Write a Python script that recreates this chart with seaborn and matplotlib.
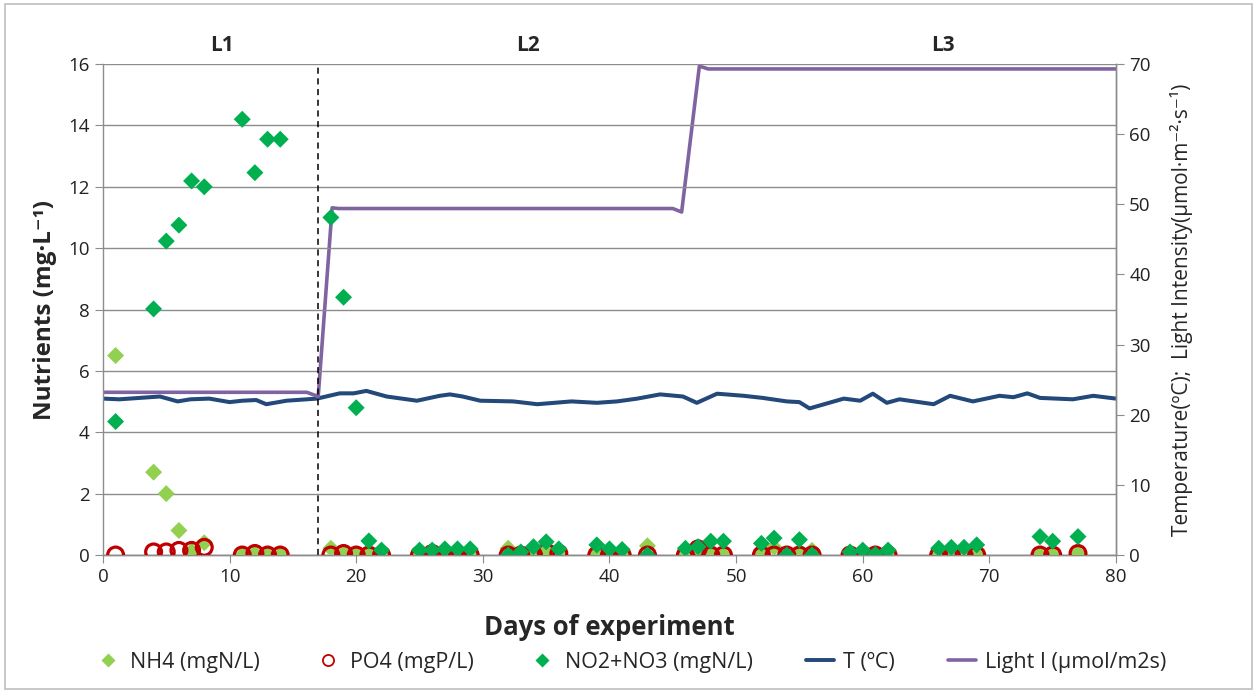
import matplotlib
matplotlib.use("Agg")
import matplotlib.pyplot as plt
from matplotlib import font_manager
from matplotlib.lines import Line2D
from matplotlib.patches import Rectangle
import seaborn as sns
import pandas as pd

# sampling days for the nutrient analyses
sample_days = [1, 4, 5, 6, 7, 8, 11, 12, 13, 14,
               18, 19, 20, 21, 22, 25, 26, 27, 28, 29, 32, 33, 34, 35, 36, 39, 40, 41, 43, 46,
               47, 48, 49, 52, 53, 54, 55, 56, 59, 60, 61, 62, 66, 67, 68, 69, 74, 75, 77]
nh4 = [6.5, 2.7, 2.0, 0.8, 0.12, 0.4, 0.0, 0.05, 0.0, 0.0,
       0.22, 0.05, 0.0, 0.0, 0.0, 0.0, 0.05, 0.0, 0.05, 0.0, 0.22, 0.0, 0.05, 0.1, 0.05, 0.05, 0.02, 0.0, 0.3, 0.1,
       -0.05, 0.05, 0.0, 0.05, 0.25, 0.0, 0.02, 0.15, 0.05, 0.0, 0.02, 0.0, 0.05, 0.0, 0.05, 0.0, 0.0, 0.0, 0.05]
po4 = [0.0, 0.1, 0.1, 0.15, 0.15, 0.25, 0.0, 0.05, 0.0, 0.0,
       0.0, 0.05, 0.0, 0.0, 0.0, 0.0, 0.05, 0.0, 0.0, 0.0, 0.0, 0.0, 0.0, 0.1, 0.05, 0.0, 0.0, 0.0, 0.0, 0.0,
       0.2, 0.0, 0.0, 0.0, 0.0, 0.0, 0.0, 0.0, 0.0, 0.0, 0.0, 0.0, 0.0, 0.0, 0.0, 0.0, 0.0, 0.0, 0.05]
no2no3 = [4.35, 8.02, 10.23, 10.75, 12.19, 12.0, 14.2, 12.46, 13.55, 13.55,
          11.0, 8.4, 4.8, 0.46, 0.16, 0.16, 0.16, 0.2, 0.2, 0.2, 0.0, 0.1, 0.27, 0.43, 0.2, 0.33, 0.2, 0.18, 0.0, 0.22,
          0.27, 0.45, 0.45, 0.38, 0.55, 0.0, 0.5, 0.0, 0.1, 0.16, 0.02, 0.16, 0.22, 0.25, 0.25, 0.33, 0.6, 0.45, 0.6]

# temperature (ºC)
t_days = [0, 1.3, 3.7, 4.5, 5.9, 6.9, 8.4, 10, 11, 12.1, 12.9, 14.5, 16.9, 18.7, 19.8, 20.8, 22.4, 24.8,
          26.6, 27.4, 28.4, 29.8, 32.4, 34.3, 37, 39, 40.6, 42.2, 44, 45.8, 46.9, 48.5, 50.6, 52.1,
          54, 55, 55.8, 58.5, 59.8, 60.8, 61.9, 62.9, 65.6, 66.9, 68.7, 70.8, 71.9, 73, 74, 76.6, 78.2, 80]
t_vals = [22.3, 22.2, 22.5, 22.6, 21.9, 22.2, 22.3, 21.8, 22.0, 22.1, 21.5, 22.0, 22.3, 23.05, 23.05, 23.4, 22.6, 22.0,
          22.7, 22.9, 22.6, 22.0, 21.9, 21.5, 21.9, 21.7, 21.9, 22.3, 22.9, 22.6, 21.7, 23.0, 22.7, 22.4,
          21.9, 21.8, 20.9, 22.3, 22.0, 23.0, 21.7, 22.2, 21.5, 22.7, 21.9, 22.7, 22.5, 23.05, 22.4, 22.2, 22.7, 22.3]

# light intensity (µmol/m2s)
light_days = [0, 16.1, 17.0, 18.1, 18.6, 45.0, 45.7, 47.1, 47.8, 80]
light_vals = [23.2, 23.2, 22.6, 49.5, 49.4, 49.4, 48.9, 69.7, 69.3, 69.3]

phase_names = ["L1", "L2", "L3"]
phase_pos = [9.4, 33.6, 66.3]


def pick_font(names, default="DejaVu Sans"):
    have = {f.name for f in font_manager.fontManager.ttflist}
    for n in names:
        if n in have:
            return n
    return default


narrow = pick_font(["Liberation Sans Narrow", "Open Sans"])
plain = pick_font(["Open Sans", "Noto Sans"])

sns.set_style("white")
plt.rcParams['font.family'] = [plain, 'DejaVu Sans']

c_nh4 = "#92D050"
c_po4 = "#C00000"
c_no = "#00B050"
c_t = "#23487A"
c_light = "#8064A2"
grey = "#8C8C8C"

nut = pd.DataFrame({"day": sample_days, "NH4": nh4, "PO4": po4, "NO": no2no3})
temp = pd.DataFrame({"day": t_days, "T": t_vals})
light = pd.DataFrame({"day": light_days, "I": light_vals})

fig = plt.figure(figsize=(12.6, 6.93), dpi=100)
ax = fig.add_axes([0.0817, 0.1991, 0.8040, 0.7085])
ax2 = ax.twinx()

sns.lineplot(data=temp, x="day", y="T", ax=ax2, color=c_t, lw=2.9, estimator=None)
sns.lineplot(data=light, x="day", y="I", ax=ax2, color=c_light, lw=2.6, estimator=None)

sns.scatterplot(data=nut, x="day", y="NH4", ax=ax, marker="D", s=75, color=c_nh4, edgecolor="none", zorder=3)
sns.scatterplot(data=nut, x="day", y="PO4", ax=ax, marker="o", s=130, facecolor="none",
                edgecolor=c_po4, linewidth=2.3, zorder=4)
sns.scatterplot(data=nut, x="day", y="NO", ax=ax, marker="D", s=75, color=c_no, edgecolor="none", zorder=5)

ax.set_zorder(ax2.get_zorder() + 1)
ax.patch.set_visible(False)

ax.axvline(17, color="black", ls=(0, (4, 3)), lw=1.1, zorder=2)

ax.set_xlim(0, 80)
ax.set_ylim(0, 16)
ax2.set_ylim(0, 70)
ax.set_xticks(range(0, 81, 10))
ax.set_yticks(range(0, 17, 2))
ax2.set_yticks(range(0, 71, 10))

ax.grid(axis="y", color=grey, lw=1.0)
ax.grid(axis="x", visible=False)
ax2.grid(False)

for a in (ax, ax2):
    for s in a.spines.values():
        s.set_color(grey)
        s.set_linewidth(1.0)
    a.spines["top"].set_visible(False)
ax2.spines["left"].set_visible(False)

ax.tick_params(axis="both", which="major", direction="out", length=6, color=grey,
               labelsize=13.5, labelcolor="#222222", bottom=True, left=True)
ax2.tick_params(axis="y", direction="out", length=6, color=grey, labelsize=13.5,
                labelcolor="#222222", right=True)

ax.set_xlabel("Days of experiment", fontsize=18.5, fontweight="bold", family=[narrow, "DejaVu Sans"], labelpad=20)
ax.set_ylabel("Nutrients (mg·L⁻¹)", fontsize=17.5, fontweight="bold", family=[narrow, "DejaVu Sans"], labelpad=8)
ax2.set_ylabel("Temperature(ºC);  Light Intensity(µmol·m⁻²·s⁻¹)", fontsize=15, labelpad=14)

for name, xp in zip(phase_names, phase_pos):
    ax.text(xp, 16.6, name, ha="center", va="center", fontsize=15, fontweight="bold",
            family=[narrow, "DejaVu Sans"])

handles = [
    Line2D([], [], ls="none", marker="D", ms=7, color=c_nh4, mec="none"),
    Line2D([], [], ls="none", marker="o", ms=8, mfc="none", mec=c_po4, mew=1.3),
    Line2D([], [], ls="none", marker="D", ms=7, color=c_no, mec="none"),
    Line2D([], [], color=c_t, lw=2.8),
    Line2D([], [], color=c_light, lw=2.6),
]
labels = ["NH4 (mgN/L)", "PO4 (mgP/L)", "NO2+NO3 (mgN/L)", "T (ºC)", "Light I (µmol/m2s)"]
fig.legend(handles, labels, loc="center", bbox_to_anchor=(0.5, 0.044), ncol=5, frameon=False,
           prop={"family": [narrow, "DejaVu Sans"], "size": 15.5}, handlelength=1.3,
           handletextpad=0.4, columnspacing=2.5)

fig.patches.append(Rectangle((0.004, 0.006), 0.99, 0.988, transform=fig.transFigure,
                             fill=False, edgecolor="#BFBFBF", lw=1.2))

fig.savefig("out.png", dpi=100)
